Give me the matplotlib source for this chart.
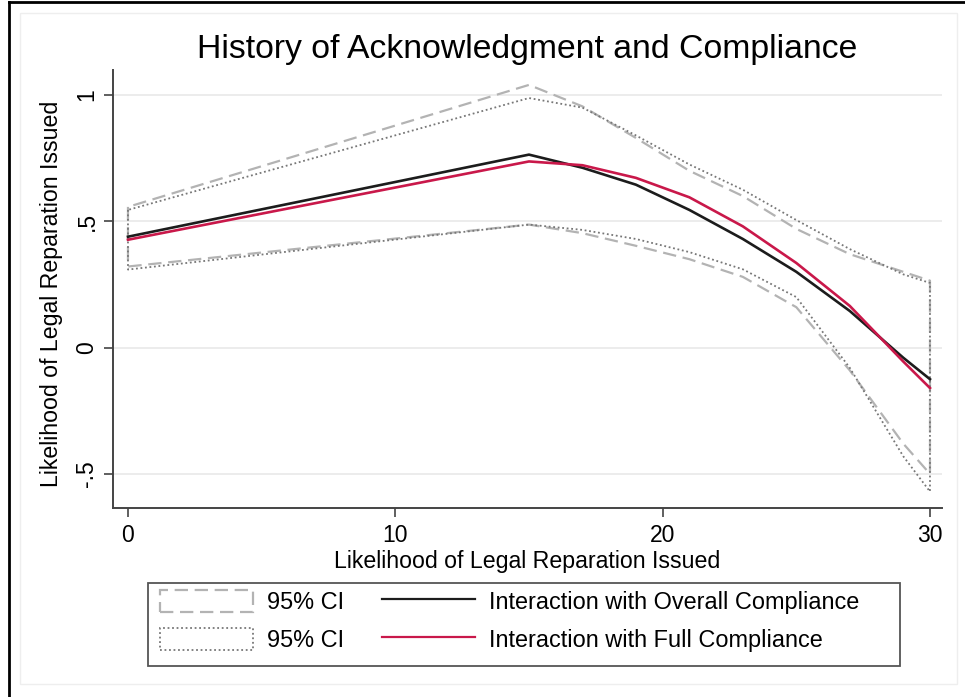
import matplotlib
matplotlib.use("Agg")
import matplotlib.pyplot as plt
from matplotlib.lines import Line2D
from matplotlib.patches import Patch, Rectangle

plt.rcParams["font.family"] = ["Liberation Sans", "DejaVu Sans"]

# values (x = likelihood of legal reparation issued)
x = [0, 15, 17, 19, 21, 23, 25, 27, 29, 30]
overall = [0.439, 0.764, 0.712, 0.645, 0.545, 0.430, 0.300, 0.145, -0.040, -0.125]
overall_lo = [0.321, 0.487, 0.453, 0.403, 0.350, 0.280, 0.160, -0.090, -0.380, -0.500]
overall_hi = [0.557, 1.040, 0.955, 0.830, 0.700, 0.600, 0.470, 0.370, 0.300, 0.265]
full = [0.427, 0.737, 0.722, 0.672, 0.595, 0.480, 0.335, 0.165, -0.055, -0.160]
full_lo = [0.309, 0.487, 0.466, 0.430, 0.378, 0.310, 0.200, -0.080, -0.430, -0.570]
full_hi = [0.545, 0.988, 0.950, 0.840, 0.725, 0.625, 0.505, 0.390, 0.290, 0.256]

xticks = [0, 10, 20, 30]
yticks = [-0.5, 0, 0.5, 1]
ytick_labels = ["-.5", "0", ".5", "1"]

title = "History of Acknowledgment and Compliance"
axis_label = "Likelihood of Legal Reparation Issued"
ci_label = "95% CI"
overall_label = "Interaction with Overall Compliance"
full_label = "Interaction with Full Compliance"

W, H = 965, 697
fig = plt.figure(figsize=(W / 100, H / 100), dpi=100, facecolor="white")
ax = fig.add_axes([113 / W, 1 - 508 / H, (942 - 113) / W, (508 - 70) / H])

DASHED = dict(edgecolor="#b3b3b3", linewidth=1.6, linestyle=(0, (6, 3)))
DOTTED = dict(edgecolor="#777777", linewidth=1.3, linestyle=(0, (1, 1.5)))
C_OVERALL = "#1c1c1c"
C_FULL = "#c9184a"

ax.fill_between(x, overall_lo, overall_hi, facecolor="none", zorder=2, **DASHED)
ax.fill_between(x, full_lo, full_hi, facecolor="none", zorder=2, **DOTTED)
ax.plot(x, overall, color=C_OVERALL, linewidth=1.9, zorder=3)
ax.plot(x, full, color=C_FULL, linewidth=1.9, zorder=3)

ax.set_xlim(-0.56, 30.45)
ax.set_ylim(-0.635, 1.099)
ax.set_xticks(xticks)
ax.set_yticks(yticks)
ax.set_yticklabels(ytick_labels, rotation=90, va="center")
ax.tick_params(direction="out", length=6.5, width=1.2, color="#444444",
               labelsize=16.5)
ax.tick_params(axis="x", pad=5)
ax.tick_params(axis="y", pad=4)
ax.grid(axis="y", color="#e9e9e9", linewidth=1.2, zorder=0)
ax.set_axisbelow(True)
for s in ("top", "right"):
    ax.spines[s].set_visible(False)
for s in ("left", "bottom"):
    ax.spines[s].set_color("#444444")
    ax.spines[s].set_linewidth(1.4)

ax.set_xlabel(axis_label, fontsize=16.7)
ax.set_ylabel(axis_label, fontsize=16.7)
ax.xaxis.set_label_coords(0.5, -0.096)
ax.yaxis.set_label_coords(-0.060, 0.49)

fig.text(527.5 / W, 1 - 58 / H, title, ha="center", va="baseline", fontsize=24.3)

# legend: frame drawn separately so it spans like the original
fig.patches.append(Rectangle((148 / W, 1 - 666 / H), (900 - 148) / W, (666 - 583) / H,
                             transform=fig.transFigure, fill=False,
                             edgecolor="#555555", linewidth=1.3))
handles = [
    Patch(facecolor="none", **DASHED),
    Patch(facecolor="none", **DOTTED),
    Line2D([], [], color=C_OVERALL, linewidth=1.6),
    Line2D([], [], color=C_FULL, linewidth=1.6),
]
labels = [ci_label, ci_label, overall_label, full_label]
fig.legend(handles, labels, ncol=2, loc="upper left",
           bbox_to_anchor=(160 / W, 1 - 590 / H), bbox_transform=fig.transFigure,
           frameon=False, fontsize=16.9, borderpad=0, borderaxespad=0,
           handlelength=3.95, handleheight=1.05, handletextpad=0.62,
           columnspacing=1.6, labelspacing=0.6)

# screenshot edges: black frame on left/top, faint inner region
fig.add_artist(Line2D([8.5 / W, 8.5 / W], [0, 1 - 2 / H], color="black",
                      linewidth=2, transform=fig.transFigure))
fig.add_artist(Line2D([8.5 / W, 1], [1 - 2 / H, 1 - 2 / H], color="black",
                      linewidth=2, transform=fig.transFigure))
fig.patches.append(Rectangle((20 / W, 1 - 684 / H), (957 - 20) / W, (684 - 13) / H,
                             transform=fig.transFigure, fill=False,
                             edgecolor="#eeeeee", linewidth=1))

fig.savefig("out.png", dpi=100, facecolor="white")
plt.close(fig)
